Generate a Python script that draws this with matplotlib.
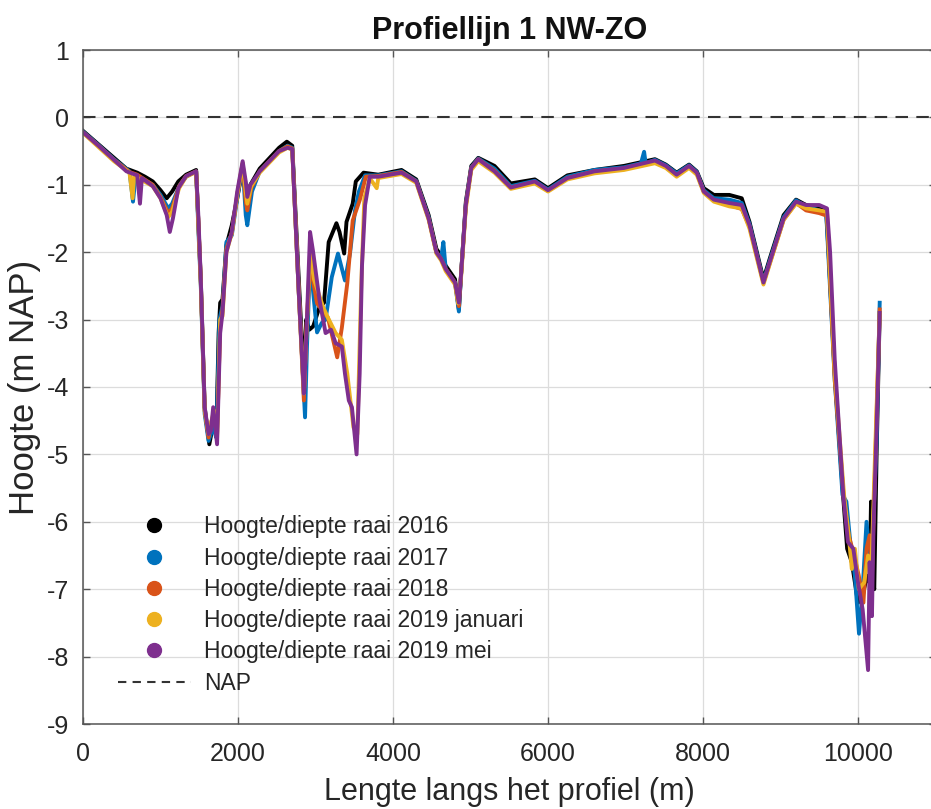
import numpy as np
import matplotlib
matplotlib.use('Agg')
import matplotlib.pyplot as plt
from matplotlib.lines import Line2D

plt.rcParams['font.family'] = ['Liberation Sans', 'DejaVu Sans']
plt.rcParams['axes.unicode_minus'] = False

# =========================================================
#                     profile data (m, m NAP)
# =========================================================
x_2016 = [0, 200, 400, 560, 700, 800, 900, 1000, 1080, 1150, 1230, 1330, 1460, 1490, 1520, 1570, 1630, 1680, 1720, 1750,
          1770, 1800, 1850, 1920, 1990, 2060, 2100, 2130, 2160, 2280, 2530, 2630, 2700, 2780, 2850, 2880, 2920, 2970,
          3050, 3110, 3170, 3270, 3310, 3370, 3400, 3480, 3520, 3620, 3810, 4110, 4300, 4460, 4560, 4620, 4680, 4800,
          4850, 4880, 4940, 5010, 5100, 5310, 5520, 5830, 6000, 6250, 6600, 6980, 7380, 7520, 7660, 7820, 7920, 8010,
          8140, 8340, 8500, 8600, 8780, 8860, 9040, 9200, 9330, 9500, 9590, 9620, 9700, 9800, 9860, 9920, 10000, 10060,
          10116, 10150, 10168, 10185, 10210, 10240, 10280]
y_2016 = [-0.20, -0.40, -0.60, -0.76, -0.82, -0.88, -0.95, -1.08, -1.20, -1.10, -0.95, -0.85, -0.78, -1.60, -2.40,
          -4.30, -4.85, -4.55, -4.70, -3.20, -2.75, -2.70, -1.90, -1.60, -1.20, -0.75, -1.00, -1.20, -1.00, -0.76,
          -0.45, -0.36, -0.42, -2.30, -3.90, -3.00, -3.15, -3.10, -2.82, -2.75, -1.85, -1.57, -1.70, -2.02, -1.55,
          -1.28, -0.95, -0.82, -0.85, -0.78, -0.92, -1.45, -1.95, -2.05, -2.20, -2.40, -2.85, -2.30, -1.25, -0.72,
          -0.60, -0.72, -0.98, -0.92, -1.05, -0.86, -0.78, -0.72, -0.62, -0.70, -0.82, -0.70, -0.80, -1.05, -1.15,
          -1.15, -1.20, -1.55, -2.40, -2.10, -1.45, -1.22, -1.30, -1.35, -1.40, -2.00, -3.80, -5.50, -6.40, -6.60,
          -7.20, -7.10, -6.80, -6.90, -5.70, -6.80, -7.00, -5.00, -2.90]

x_2017 = [0, 200, 400, 600, 645, 680, 900, 1000, 1100, 1150, 1250, 1330, 1460, 1490, 1520, 1570, 1620, 1680, 1720, 1760,
          1800, 1850, 1920, 1990, 2060, 2100, 2120, 2180, 2280, 2530, 2640, 2700, 2780, 2865, 2890, 2930, 3020, 3080,
          3130, 3210, 3290, 3380, 3445, 3510, 3560, 3640, 3810, 4110, 4300, 4460, 4560, 4620, 4650, 4680, 4800, 4850,
          4880, 4940, 5010, 5100, 5310, 5520, 5830, 6000, 6250, 6600, 6980, 7200, 7240, 7260, 7380, 7520, 7660, 7820,
          7920, 8010, 8140, 8340, 8500, 8600, 8780, 8860, 9040, 9200, 9330, 9500, 9590, 9620, 9700, 9800, 9850, 9900,
          9960, 10013, 10060, 10110, 10150, 10190, 10240, 10280]
y_2017 = [-0.21, -0.41, -0.62, -0.80, -1.25, -0.85, -1.00, -1.15, -1.35, -1.28, -1.00, -0.88, -0.80, -1.70, -2.50,
          -4.40, -4.80, -4.60, -4.75, -3.00, -2.80, -1.85, -1.75, -1.20, -0.70, -1.45, -1.60, -1.10, -0.80, -0.50,
          -0.42, -0.45, -2.50, -4.45, -3.40, -2.12, -3.19, -3.05, -3.00, -2.37, -2.02, -2.42, -2.02, -1.38, -1.10,
          -0.86, -0.86, -0.80, -0.94, -1.48, -2.00, -2.10, -1.85, -2.25, -2.45, -2.88, -2.30, -1.28, -0.74, -0.61,
          -0.76, -1.02, -0.94, -1.07, -0.88, -0.78, -0.74, -0.68, -0.51, -0.68, -0.63, -0.71, -0.83, -0.71, -0.81,
          -1.08, -1.20, -1.22, -1.27, -1.58, -2.43, -2.13, -1.48, -1.23, -1.32, -1.38, -1.42, -2.10, -3.90, -5.60,
          -5.70, -6.30, -6.80, -7.66, -7.00, -6.00, -6.50, -6.20, -4.80, -2.75]

x_2018 = [0, 200, 400, 600, 700, 900, 1000, 1100, 1150, 1240, 1330, 1460, 1490, 1520, 1570, 1620, 1660, 1690, 1730,
          1770, 1800, 1850, 1920, 1990, 2060, 2100, 2120, 2170, 2280, 2530, 2640, 2700, 2780, 2850, 2880, 2930, 3020,
          3160, 3280, 3340, 3410, 3480, 3570, 3650, 3810, 4110, 4300, 4460, 4560, 4620, 4680, 4800, 4850, 4880, 4940,
          5010, 5100, 5310, 5520, 5830, 6000, 6250, 6600, 6980, 7380, 7520, 7660, 7820, 7920, 8010, 8140, 8340, 8500,
          8600, 8780, 8860, 9040, 9200, 9330, 9500, 9600, 9630, 9700, 9820, 9880, 9950, 10010, 10070, 10110, 10150,
          10180, 10220, 10280]
y_2018 = [-0.22, -0.42, -0.63, -0.81, -0.85, -1.00, -1.18, -1.42, -1.35, -1.02, -0.87, -0.80, -1.60, -2.45, -4.35,
          -4.75, -4.50, -4.40, -4.70, -3.10, -2.85, -1.95, -1.72, -1.15, -0.68, -1.25, -1.38, -1.05, -0.80, -0.50,
          -0.43, -0.46, -2.50, -4.20, -3.20, -2.17, -2.76, -2.97, -3.56, -3.12, -2.46, -1.53, -1.23, -0.88, -0.87,
          -0.81, -0.95, -1.50, -2.00, -2.10, -2.25, -2.45, -2.80, -2.30, -1.30, -0.75, -0.62, -0.79, -1.04, -0.96,
          -1.09, -0.90, -0.80, -0.76, -0.66, -0.74, -0.86, -0.73, -0.83, -1.10, -1.23, -1.30, -1.36, -1.62, -2.45,
          -2.17, -1.52, -1.27, -1.38, -1.42, -1.46, -2.20, -3.90, -5.70, -6.20, -6.50, -6.80, -7.20, -6.40, -6.20,
          -6.80, -5.20, -2.85]

x_2019jan = [0, 200, 400, 600, 640, 660, 900, 1000, 1100, 1150, 1240, 1330, 1460, 1490, 1520, 1570, 1620, 1660, 1690,
             1730, 1770, 1800, 1850, 1920, 1990, 2060, 2100, 2120, 2170, 2280, 2530, 2640, 2700, 2780, 2850, 2880, 2930,
             2980, 3100, 3160, 3260, 3340, 3410, 3490, 3540, 3560, 3590, 3630, 3700, 3790, 3810, 4110, 4300, 4460, 4560,
             4620, 4680, 4800, 4840, 4880, 4940, 5010, 5100, 5310, 5520, 5830, 6000, 6250, 6600, 6980, 7380, 7520, 7660,
             7820, 7920, 8010, 8140, 8340, 8500, 8600, 8780, 8860, 9040, 9200, 9330, 9500, 9600, 9630, 9700, 9820, 9880,
             9920, 9960, 10010, 10080, 10130, 10170, 10220, 10280]
y_2019jan = [-0.23, -0.44, -0.65, -0.82, -1.20, -0.87, -1.02, -1.20, -1.48, -1.40, -1.05, -0.88, -0.81, -1.60, -2.45,
             -4.35, -4.70, -4.50, -4.35, -4.75, -3.00, -2.95, -2.00, -1.72, -1.15, -0.68, -1.10, -1.28, -1.02, -0.82,
             -0.52, -0.45, -0.48, -2.50, -4.10, -3.30, -2.00, -2.40, -2.82, -2.97, -3.20, -3.30, -3.80, -4.60, -4.70,
             -3.80, -2.50, -1.20, -0.90, -1.05, -0.90, -0.84, -0.97, -1.52, -2.02, -2.12, -2.28, -2.48, -2.76, -2.35,
             -1.35, -0.78, -0.65, -0.82, -1.06, -0.98, -1.10, -0.92, -0.83, -0.78, -0.68, -0.75, -0.88, -0.75, -0.85,
             -1.12, -1.25, -1.32, -1.35, -1.65, -2.48, -2.18, -1.52, -1.28, -1.35, -1.38, -1.40, -2.10, -3.80, -5.60,
             -6.20, -6.70, -6.40, -7.00, -6.90, -6.50, -6.80, -5.00, -2.90]

x_2019mei = [0, 200, 400, 560, 700, 735, 760, 900, 1000, 1080, 1120, 1160, 1230, 1330, 1460, 1490, 1520, 1570, 1620,
             1650, 1680, 1730, 1770, 1800, 1850, 1920, 1990, 2060, 2100, 2120, 2160, 2280, 2530, 2640, 2700, 2780, 2850,
             2870, 2930, 2970, 3050, 3130, 3200, 3260, 3340, 3380, 3430, 3470, 3530, 3570, 3600, 3640, 3700, 3810, 4110,
             4300, 4460, 4560, 4620, 4680, 4800, 4850, 4880, 4940, 5010, 5100, 5310, 5520, 5830, 6000, 6250, 6600, 6980,
             7380, 7520, 7660, 7820, 7920, 8010, 8140, 8340, 8500, 8600, 8780, 8860, 9040, 9200, 9330, 9500, 9600, 9640,
             9700, 9810, 9870, 9940, 10000, 10060, 10130, 10150, 10180, 10200, 10240, 10280]
y_2019mei = [-0.22, -0.42, -0.63, -0.80, -0.86, -1.28, -0.90, -1.02, -1.20, -1.45, -1.70, -1.50, -1.05, -0.87, -0.80,
             -1.50, -2.40, -4.30, -4.70, -4.65, -4.30, -4.85, -3.20, -2.90, -2.00, -1.70, -1.10, -0.65, -0.95, -1.18,
             -1.00, -0.80, -0.50, -0.45, -0.47, -2.50, -4.10, -3.60, -1.70, -2.00, -2.70, -3.20, -3.15, -3.35, -3.40,
             -3.80, -4.20, -4.30, -5.00, -3.80, -2.20, -1.30, -0.88, -0.88, -0.82, -0.95, -1.50, -2.00, -2.10, -2.25,
             -2.45, -2.75, -2.30, -1.30, -0.75, -0.62, -0.80, -1.04, -0.95, -1.08, -0.90, -0.80, -0.75, -0.64, -0.72,
             -0.85, -0.72, -0.82, -1.10, -1.22, -1.27, -1.30, -1.60, -2.45, -2.15, -1.50, -1.25, -1.30, -1.30, -1.35,
             -2.00, -3.60, -5.60, -6.30, -6.40, -6.90, -7.30, -8.20, -6.60, -7.40, -6.10, -4.60, -2.90]

labels = ['Hoogte/diepte raai 2016', 'Hoogte/diepte raai 2017', 'Hoogte/diepte raai 2018',
          'Hoogte/diepte raai 2019 januari', 'Hoogte/diepte raai 2019 mei']
colors = ['#000000', '#0072BD', '#D95319', '#EDB120', '#7E2F8E']
series = [(x_2016, y_2016), (x_2017, y_2017), (x_2018, y_2018), (x_2019jan, y_2019jan), (x_2019mei, y_2019mei)]

# =========================================================
#                           plot
# =========================================================
fig = plt.figure(figsize=(9.31, 8.09), dpi=100)
ax = fig.add_axes([83/931, 85/809, 852.5/931, 674/809])

for (xs, ys), c, lab in zip(series, colors, labels):
    ax.plot(xs, ys, color=c, lw=2.8, label=lab, solid_joinstyle='round')
ax.axhline(0, color='#333333', lw=1.5, ls=(0, (6, 4)), label='NAP')

ax.set_xlim(0, 11000)
ax.set_ylim(-9, 1)
ax.set_xticks(np.arange(0, 11000, 2000))
ax.set_yticks(np.arange(-9, 2, 1))
ax.grid(True, color='#dcdcdc', lw=0.9)
ax.set_axisbelow(True)
for sp in ax.spines.values():
    sp.set_color('#555555')
    sp.set_linewidth(1.1)
ax.tick_params(direction='in', length=5, width=1, top=True, right=True, colors='#555555',
               labelcolor='#262626', labelsize=18)
ax.tick_params(axis='x', pad=13)
ax.tick_params(axis='y', pad=10)

ax.set_xlabel('Lengte langs het profiel (m)', fontsize=22, color='#262626', labelpad=8)
ax.set_ylabel('Hoogte (m NAP)', fontsize=25, color='#262626', labelpad=4)
ax.set_title('Profiellijn 1 NW-ZO', fontsize=22, fontweight='bold', color='#111111', pad=8)

handles = [Line2D([], [], ls='none', marker='o', ms=10, color=c) for c in colors]
handles.append(Line2D([], [], color='#333333', lw=1.5, ls=(0, (4, 3))))
leg = ax.legend(handles, labels + ['NAP'], loc='upper left', bbox_to_anchor=(0.030, 0.323),
                frameon=False, fontsize=16.5, handlelength=3.2, handletextpad=0.55, labelspacing=0.36,
                borderaxespad=0)
for t in leg.get_texts():
    t.set_color('#262626')

fig.savefig('out.png', dpi=100)
